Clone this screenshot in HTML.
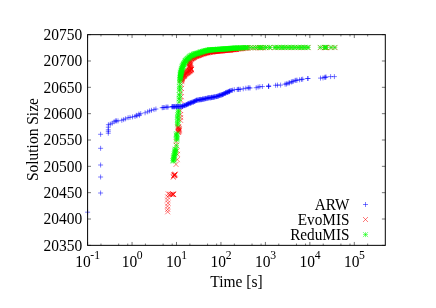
<!DOCTYPE html>
<html><head><meta charset="utf-8"><title>plot</title>
<style>html,body{margin:0;padding:0;background:#fff;width:436px;height:308px;overflow:hidden;font-family:"Liberation Serif",serif}.t,.t text,.t tspan{font-family:"Liberation Serif",serif}</style>
</head><body>
<svg width="436" height="308" viewBox="0 0 436 308" style="display:block;will-change:transform;opacity:0.999">
<rect width="436" height="308" fill="#fff"/>
<g stroke="#f00" stroke-width="0.52" fill="none"><path d="M165.20,194.40l5.00,5.00M165.20,199.40l5.00,-5.00"/><path d="M165.00,197.50l5.00,5.00M165.00,202.50l5.00,-5.00"/><path d="M165.50,200.60l5.00,5.00M165.50,205.60l5.00,-5.00"/><path d="M165.00,203.70l5.00,5.00M165.00,208.70l5.00,-5.00"/><path d="M165.20,206.80l5.00,5.00M165.20,211.80l5.00,-5.00"/><path d="M165.20,209.30l5.00,5.00M165.20,214.30l5.00,-5.00"/><path d="M165.70,191.30l5.00,5.00M165.70,196.30l5.00,-5.00"/><path d="M167.00,192.00l5.00,5.00M167.00,197.00l5.00,-5.00"/><path d="M168.10,191.70l5.00,5.00M168.10,196.70l5.00,-5.00"/><path d="M169.30,191.90l5.00,5.00M169.30,196.90l5.00,-5.00"/><path d="M170.70,191.80l5.00,5.00M170.70,196.80l5.00,-5.00"/><path d="M170.90,191.60l5.00,5.00M170.90,196.60l5.00,-5.00"/><path d="M170.50,192.00l5.00,5.00M170.50,197.00l5.00,-5.00"/><path d="M170.80,192.10l5.00,5.00M170.80,197.10l5.00,-5.00"/><path d="M170.40,191.50l5.00,5.00M170.40,196.50l5.00,-5.00"/><path d="M171.90,172.50l5.00,5.00M171.90,177.50l5.00,-5.00"/><path d="M172.10,172.30l5.00,5.00M172.10,177.30l5.00,-5.00"/><path d="M171.70,172.70l5.00,5.00M171.70,177.70l5.00,-5.00"/><path d="M172.00,172.80l5.00,5.00M172.00,177.80l5.00,-5.00"/><path d="M172.20,172.10l5.00,5.00M172.20,177.10l5.00,-5.00"/><path d="M171.60,173.00l5.00,5.00M171.60,178.00l5.00,-5.00"/><path d="M170.70,174.70l5.00,5.00M170.70,179.70l5.00,-5.00"/><path d="M171.10,173.90l5.00,5.00M171.10,178.90l5.00,-5.00"/><path d="M172.70,171.50l5.00,5.00M172.70,176.50l5.00,-5.00"/><path d="M173.50,161.90l5.00,5.00M173.50,166.90l5.00,-5.00"/><path d="M174.80,157.10l5.00,5.00M174.80,162.10l5.00,-5.00"/><path d="M175.00,151.90l5.00,5.00M175.00,156.90l5.00,-5.00"/><path d="M174.70,148.10l5.00,5.00M174.70,153.10l5.00,-5.00"/><path d="M173.80,142.70l5.00,5.00M173.80,147.70l5.00,-5.00"/><path d="M173.70,139.10l5.00,5.00M173.70,144.10l5.00,-5.00"/><path d="M175.80,129.86l5.00,5.00M175.80,134.86l5.00,-5.00"/><path d="M175.90,129.59l5.00,5.00M175.90,134.59l5.00,-5.00"/><path d="M175.91,128.85l5.00,5.00M175.91,133.85l5.00,-5.00"/><path d="M176.39,128.53l5.00,5.00M176.39,133.53l5.00,-5.00"/><path d="M176.69,128.18l5.00,5.00M176.69,133.18l5.00,-5.00"/><path d="M176.68,127.48l5.00,5.00M176.68,132.48l5.00,-5.00"/><path d="M176.52,126.92l5.00,5.00M176.52,131.92l5.00,-5.00"/><path d="M175.84,126.46l5.00,5.00M175.84,131.46l5.00,-5.00"/><path d="M176.71,126.16l5.00,5.00M176.71,131.16l5.00,-5.00"/><path d="M175.75,125.44l5.00,5.00M175.75,130.44l5.00,-5.00"/><path d="M175.91,124.95l5.00,5.00M175.91,129.95l5.00,-5.00"/><path d="M175.95,124.46l5.00,5.00M175.95,129.46l5.00,-5.00"/><path d="M175.67,124.03l5.00,5.00M175.67,129.03l5.00,-5.00"/><path d="M178.10,117.90l5.00,5.00M178.10,122.90l5.00,-5.00"/><path d="M178.20,115.00l5.00,5.00M178.20,120.00l5.00,-5.00"/><path d="M178.10,112.10l5.00,5.00M178.10,117.10l5.00,-5.00"/><path d="M177.80,108.00l5.00,5.00M177.80,113.00l5.00,-5.00"/><path d="M178.50,98.00l5.00,5.00M178.50,103.00l5.00,-5.00"/><path d="M178.70,94.30l5.00,5.00M178.70,99.30l5.00,-5.00"/><path d="M178.50,90.10l5.00,5.00M178.50,95.10l5.00,-5.00"/><path d="M178.90,85.90l5.00,5.00M178.90,90.90l5.00,-5.00"/><path d="M178.80,82.00l5.00,5.00M178.80,87.00l5.00,-5.00"/><path d="M179.50,79.20l5.00,5.00M179.50,84.20l5.00,-5.00"/><path d="M178.74,77.53l5.00,5.00M178.74,82.53l5.00,-5.00"/><path d="M178.85,77.35l5.00,5.00M178.85,82.35l5.00,-5.00"/><path d="M178.40,77.30l5.00,5.00M178.40,82.30l5.00,-5.00"/><path d="M179.05,76.71l5.00,5.00M179.05,81.71l5.00,-5.00"/><path d="M178.44,76.70l5.00,5.00M178.44,81.70l5.00,-5.00"/><path d="M178.94,76.53l5.00,5.00M178.94,81.53l5.00,-5.00"/><path d="M179.36,76.40l5.00,5.00M179.36,81.40l5.00,-5.00"/><path d="M179.32,75.72l5.00,5.00M179.32,80.72l5.00,-5.00"/><path d="M179.19,76.10l5.00,5.00M179.19,81.10l5.00,-5.00"/><path d="M178.90,75.33l5.00,5.00M178.90,80.33l5.00,-5.00"/><path d="M179.51,75.78l5.00,5.00M179.51,80.78l5.00,-5.00"/><path d="M179.07,75.36l5.00,5.00M179.07,80.36l5.00,-5.00"/><path d="M179.20,75.25l5.00,5.00M179.20,80.25l5.00,-5.00"/><path d="M179.68,74.64l5.00,5.00M179.68,79.64l5.00,-5.00"/><path d="M179.42,74.85l5.00,5.00M179.42,79.85l5.00,-5.00"/><path d="M179.76,74.66l5.00,5.00M179.76,79.66l5.00,-5.00"/><path d="M179.82,74.16l5.00,5.00M179.82,79.16l5.00,-5.00"/><path d="M180.43,74.27l5.00,5.00M180.43,79.27l5.00,-5.00"/><path d="M180.20,74.00l5.00,5.00M180.20,79.00l5.00,-5.00"/><path d="M180.53,73.98l5.00,5.00M180.53,78.98l5.00,-5.00"/><path d="M180.84,73.59l5.00,5.00M180.84,78.59l5.00,-5.00"/><path d="M180.92,73.63l5.00,5.00M180.92,78.63l5.00,-5.00"/><path d="M181.10,73.58l5.00,5.00M181.10,78.58l5.00,-5.00"/><path d="M181.23,73.49l5.00,5.00M181.23,78.49l5.00,-5.00"/><path d="M181.49,73.13l5.00,5.00M181.49,78.13l5.00,-5.00"/><path d="M181.29,73.03l5.00,5.00M181.29,78.03l5.00,-5.00"/><path d="M181.67,72.64l5.00,5.00M181.67,77.64l5.00,-5.00"/><path d="M181.51,72.26l5.00,5.00M181.51,77.26l5.00,-5.00"/><path d="M181.92,72.78l5.00,5.00M181.92,77.78l5.00,-5.00"/><path d="M181.78,71.96l5.00,5.00M181.78,76.96l5.00,-5.00"/><path d="M181.80,72.01l5.00,5.00M181.80,77.01l5.00,-5.00"/><path d="M182.03,72.30l5.00,5.00M182.03,77.30l5.00,-5.00"/><path d="M182.02,71.63l5.00,5.00M182.02,76.63l5.00,-5.00"/><path d="M182.24,71.77l5.00,5.00M182.24,76.77l5.00,-5.00"/><path d="M182.94,71.26l5.00,5.00M182.94,76.26l5.00,-5.00"/><path d="M182.54,71.35l5.00,5.00M182.54,76.35l5.00,-5.00"/><path d="M183.13,71.57l5.00,5.00M183.13,76.57l5.00,-5.00"/><path d="M182.87,70.80l5.00,5.00M182.87,75.80l5.00,-5.00"/><path d="M183.16,70.75l5.00,5.00M183.16,75.75l5.00,-5.00"/><path d="M183.37,71.01l5.00,5.00M183.37,76.01l5.00,-5.00"/><path d="M183.83,70.48l5.00,5.00M183.83,75.48l5.00,-5.00"/><path d="M183.68,70.39l5.00,5.00M183.68,75.39l5.00,-5.00"/><path d="M183.84,70.64l5.00,5.00M183.84,75.64l5.00,-5.00"/><path d="M184.12,70.33l5.00,5.00M184.12,75.33l5.00,-5.00"/><path d="M184.70,70.14l5.00,5.00M184.70,75.14l5.00,-5.00"/><path d="M184.43,70.33l5.00,5.00M184.43,75.33l5.00,-5.00"/><path d="M185.13,69.76l5.00,5.00M185.13,74.76l5.00,-5.00"/><path d="M185.01,70.12l5.00,5.00M185.01,75.12l5.00,-5.00"/><path d="M185.13,69.39l5.00,5.00M185.13,74.39l5.00,-5.00"/><path d="M184.95,69.84l5.00,5.00M184.95,74.84l5.00,-5.00"/><path d="M185.73,69.25l5.00,5.00M185.73,74.25l5.00,-5.00"/><path d="M185.68,69.22l5.00,5.00M185.68,74.22l5.00,-5.00"/><path d="M185.65,69.47l5.00,5.00M185.65,74.47l5.00,-5.00"/><path d="M186.14,68.73l5.00,5.00M186.14,73.73l5.00,-5.00"/><path d="M185.80,68.79l5.00,5.00M185.80,73.79l5.00,-5.00"/><path d="M186.26,68.92l5.00,5.00M186.26,73.92l5.00,-5.00"/><path d="M186.71,68.64l5.00,5.00M186.71,73.64l5.00,-5.00"/><path d="M186.44,68.15l5.00,5.00M186.44,73.15l5.00,-5.00"/><path d="M186.75,68.10l5.00,5.00M186.75,73.10l5.00,-5.00"/><path d="M187.37,68.17l5.00,5.00M187.37,73.17l5.00,-5.00"/><path d="M187.36,68.42l5.00,5.00M187.36,73.42l5.00,-5.00"/><path d="M187.24,67.92l5.00,5.00M187.24,72.92l5.00,-5.00"/><path d="M187.32,67.98l5.00,5.00M187.32,72.98l5.00,-5.00"/><path d="M187.38,67.89l5.00,5.00M187.38,72.89l5.00,-5.00"/><path d="M188.23,67.76l5.00,5.00M188.23,72.76l5.00,-5.00"/><path d="M187.80,67.19l5.00,5.00M187.80,72.19l5.00,-5.00"/><path d="M188.48,66.92l5.00,5.00M188.48,71.92l5.00,-5.00"/><path d="M188.47,67.09l5.00,5.00M188.47,72.09l5.00,-5.00"/><path d="M188.86,67.17l5.00,5.00M188.86,72.17l5.00,-5.00"/><path d="M188.71,66.98l5.00,5.00M188.71,71.98l5.00,-5.00"/><path d="M188.53,66.62l5.00,5.00M188.53,71.62l5.00,-5.00"/><path d="M188.47,66.00l5.00,5.00M188.47,71.00l5.00,-5.00"/><path d="M188.27,65.64l5.00,5.00M188.27,70.64l5.00,-5.00"/><path d="M187.96,65.41l5.00,5.00M187.96,70.41l5.00,-5.00"/><path d="M187.58,65.16l5.00,5.00M187.58,70.16l5.00,-5.00"/><path d="M187.53,64.43l5.00,5.00M187.53,69.43l5.00,-5.00"/><path d="M187.25,64.00l5.00,5.00M187.25,69.00l5.00,-5.00"/><path d="M187.34,63.81l5.00,5.00M187.34,68.81l5.00,-5.00"/><path d="M187.20,63.36l5.00,5.00M187.20,68.36l5.00,-5.00"/><path d="M187.03,62.73l5.00,5.00M187.03,67.73l5.00,-5.00"/><path d="M187.22,62.63l5.00,5.00M187.22,67.63l5.00,-5.00"/><path d="M187.42,61.99l5.00,5.00M187.42,66.99l5.00,-5.00"/><path d="M186.90,61.37l5.00,5.00M186.90,66.37l5.00,-5.00"/><path d="M187.30,60.84l5.00,5.00M187.30,65.84l5.00,-5.00"/><path d="M187.19,60.52l5.00,5.00M187.19,65.52l5.00,-5.00"/><path d="M186.84,60.39l5.00,5.00M186.84,65.39l5.00,-5.00"/><path d="M187.29,59.47l5.00,5.00M187.29,64.47l5.00,-5.00"/><path d="M187.30,59.11l5.00,5.00M187.30,64.11l5.00,-5.00"/><path d="M187.36,58.85l5.00,5.00M187.36,63.85l5.00,-5.00"/><path d="M187.52,58.33l5.00,5.00M187.52,63.33l5.00,-5.00"/><path d="M187.77,58.12l5.00,5.00M187.77,63.12l5.00,-5.00"/><path d="M187.89,57.44l5.00,5.00M187.89,62.44l5.00,-5.00"/><path d="M188.38,57.12l5.00,5.00M188.38,62.12l5.00,-5.00"/><path d="M188.71,56.85l5.00,5.00M188.71,61.85l5.00,-5.00"/><path d="M188.78,56.31l5.00,5.00M188.78,61.31l5.00,-5.00"/><path d="M189.00,55.86l5.00,5.00M189.00,60.86l5.00,-5.00"/><path d="M188.58,55.96l5.00,5.00M188.58,60.96l5.00,-5.00"/><path d="M189.09,56.20l5.00,5.00M189.09,61.20l5.00,-5.00"/><path d="M188.97,55.90l5.00,5.00M188.97,60.90l5.00,-5.00"/><path d="M189.55,55.89l5.00,5.00M189.55,60.89l5.00,-5.00"/><path d="M189.29,55.55l5.00,5.00M189.29,60.55l5.00,-5.00"/><path d="M189.51,55.36l5.00,5.00M189.51,60.36l5.00,-5.00"/><path d="M189.84,55.21l5.00,5.00M189.84,60.21l5.00,-5.00"/><path d="M190.33,55.30l5.00,5.00M190.33,60.30l5.00,-5.00"/><path d="M190.27,55.31l5.00,5.00M190.27,60.31l5.00,-5.00"/><path d="M190.61,55.29l5.00,5.00M190.61,60.29l5.00,-5.00"/><path d="M190.56,54.88l5.00,5.00M190.56,59.88l5.00,-5.00"/><path d="M190.76,54.57l5.00,5.00M190.76,59.57l5.00,-5.00"/><path d="M190.94,54.86l5.00,5.00M190.94,59.86l5.00,-5.00"/><path d="M191.47,54.79l5.00,5.00M191.47,59.79l5.00,-5.00"/><path d="M191.46,54.56l5.00,5.00M191.46,59.56l5.00,-5.00"/><path d="M191.26,54.27l5.00,5.00M191.26,59.27l5.00,-5.00"/><path d="M191.63,54.34l5.00,5.00M191.63,59.34l5.00,-5.00"/><path d="M191.68,54.05l5.00,5.00M191.68,59.05l5.00,-5.00"/><path d="M192.10,54.18l5.00,5.00M192.10,59.18l5.00,-5.00"/><path d="M192.47,53.95l5.00,5.00M192.47,58.95l5.00,-5.00"/><path d="M192.26,53.92l5.00,5.00M192.26,58.92l5.00,-5.00"/><path d="M192.89,53.67l5.00,5.00M192.89,58.67l5.00,-5.00"/><path d="M192.76,53.55l5.00,5.00M192.76,58.55l5.00,-5.00"/><path d="M192.84,53.62l5.00,5.00M192.84,58.62l5.00,-5.00"/><path d="M193.56,53.43l5.00,5.00M193.56,58.43l5.00,-5.00"/><path d="M193.61,53.56l5.00,5.00M193.61,58.56l5.00,-5.00"/><path d="M193.50,53.56l5.00,5.00M193.50,58.56l5.00,-5.00"/><path d="M193.97,53.05l5.00,5.00M193.97,58.05l5.00,-5.00"/><path d="M193.86,53.01l5.00,5.00M193.86,58.01l5.00,-5.00"/><path d="M194.36,53.21l5.00,5.00M194.36,58.21l5.00,-5.00"/><path d="M194.42,53.29l5.00,5.00M194.42,58.29l5.00,-5.00"/><path d="M194.65,52.94l5.00,5.00M194.65,57.94l5.00,-5.00"/><path d="M194.72,53.18l5.00,5.00M194.72,58.18l5.00,-5.00"/><path d="M194.94,53.08l5.00,5.00M194.94,58.08l5.00,-5.00"/><path d="M195.39,52.80l5.00,5.00M195.39,57.80l5.00,-5.00"/><path d="M195.61,52.56l5.00,5.00M195.61,57.56l5.00,-5.00"/><path d="M196.03,52.93l5.00,5.00M196.03,57.93l5.00,-5.00"/><path d="M196.19,52.63l5.00,5.00M196.19,57.63l5.00,-5.00"/><path d="M195.98,52.70l5.00,5.00M195.98,57.70l5.00,-5.00"/><path d="M196.29,52.68l5.00,5.00M196.29,57.68l5.00,-5.00"/><path d="M196.47,52.42l5.00,5.00M196.47,57.42l5.00,-5.00"/><path d="M197.03,52.12l5.00,5.00M197.03,57.12l5.00,-5.00"/><path d="M197.07,51.99l5.00,5.00M197.07,56.99l5.00,-5.00"/><path d="M196.97,51.98l5.00,5.00M196.97,56.98l5.00,-5.00"/><path d="M197.76,52.37l5.00,5.00M197.76,57.37l5.00,-5.00"/><path d="M197.77,51.92l5.00,5.00M197.77,56.92l5.00,-5.00"/><path d="M197.98,52.10l5.00,5.00M197.98,57.10l5.00,-5.00"/><path d="M198.01,51.94l5.00,5.00M198.01,56.94l5.00,-5.00"/><path d="M198.47,51.51l5.00,5.00M198.47,56.51l5.00,-5.00"/><path d="M198.32,51.71l5.00,5.00M198.32,56.71l5.00,-5.00"/><path d="M198.49,51.58l5.00,5.00M198.49,56.58l5.00,-5.00"/><path d="M198.95,51.38l5.00,5.00M198.95,56.38l5.00,-5.00"/><path d="M199.13,51.35l5.00,5.00M199.13,56.35l5.00,-5.00"/><path d="M199.36,51.32l5.00,5.00M199.36,56.32l5.00,-5.00"/><path d="M199.61,51.06l5.00,5.00M199.61,56.06l5.00,-5.00"/><path d="M199.83,51.05l5.00,5.00M199.83,56.05l5.00,-5.00"/><path d="M200.21,51.25l5.00,5.00M200.21,56.25l5.00,-5.00"/><path d="M200.13,51.06l5.00,5.00M200.13,56.06l5.00,-5.00"/><path d="M200.42,51.14l5.00,5.00M200.42,56.14l5.00,-5.00"/><path d="M200.71,51.11l5.00,5.00M200.71,56.11l5.00,-5.00"/><path d="M200.75,51.17l5.00,5.00M200.75,56.17l5.00,-5.00"/><path d="M201.17,51.01l5.00,5.00M201.17,56.01l5.00,-5.00"/><path d="M201.12,50.68l5.00,5.00M201.12,55.68l5.00,-5.00"/><path d="M201.42,50.89l5.00,5.00M201.42,55.89l5.00,-5.00"/><path d="M201.61,50.60l5.00,5.00M201.61,55.60l5.00,-5.00"/><path d="M201.76,50.78l5.00,5.00M201.76,55.78l5.00,-5.00"/><path d="M201.91,50.23l5.00,5.00M201.91,55.23l5.00,-5.00"/><path d="M202.37,50.69l5.00,5.00M202.37,55.69l5.00,-5.00"/><path d="M202.59,50.47l5.00,5.00M202.59,55.47l5.00,-5.00"/><path d="M202.82,50.25l5.00,5.00M202.82,55.25l5.00,-5.00"/><path d="M202.94,50.06l5.00,5.00M202.94,55.06l5.00,-5.00"/><path d="M202.87,50.24l5.00,5.00M202.87,55.24l5.00,-5.00"/><path d="M203.32,50.17l5.00,5.00M203.32,55.17l5.00,-5.00"/><path d="M203.26,50.30l5.00,5.00M203.26,55.30l5.00,-5.00"/><path d="M203.76,49.99l5.00,5.00M203.76,54.99l5.00,-5.00"/><path d="M203.85,50.04l5.00,5.00M203.85,55.04l5.00,-5.00"/><path d="M204.02,49.80l5.00,5.00M204.02,54.80l5.00,-5.00"/><path d="M204.64,50.29l5.00,5.00M204.64,55.29l5.00,-5.00"/><path d="M204.71,50.19l5.00,5.00M204.71,55.19l5.00,-5.00"/><path d="M204.78,50.11l5.00,5.00M204.78,55.11l5.00,-5.00"/><path d="M204.87,50.03l5.00,5.00M204.87,55.03l5.00,-5.00"/><path d="M205.30,50.08l5.00,5.00M205.30,55.08l5.00,-5.00"/><path d="M205.23,49.97l5.00,5.00M205.23,54.97l5.00,-5.00"/><path d="M205.46,49.77l5.00,5.00M205.46,54.77l5.00,-5.00"/><path d="M206.17,49.41l5.00,5.00M206.17,54.41l5.00,-5.00"/><path d="M205.96,49.54l5.00,5.00M205.96,54.54l5.00,-5.00"/><path d="M206.23,49.36l5.00,5.00M206.23,54.36l5.00,-5.00"/><path d="M206.79,49.76l5.00,5.00M206.79,54.76l5.00,-5.00"/><path d="M206.70,49.44l5.00,5.00M206.70,54.44l5.00,-5.00"/><path d="M207.03,49.21l5.00,5.00M207.03,54.21l5.00,-5.00"/><path d="M206.91,49.68l5.00,5.00M206.91,54.68l5.00,-5.00"/><path d="M207.30,49.40l5.00,5.00M207.30,54.40l5.00,-5.00"/><path d="M207.89,49.64l5.00,5.00M207.89,54.64l5.00,-5.00"/><path d="M207.83,49.14l5.00,5.00M207.83,54.14l5.00,-5.00"/><path d="M207.94,49.53l5.00,5.00M207.94,54.53l5.00,-5.00"/><path d="M208.52,49.07l5.00,5.00M208.52,54.07l5.00,-5.00"/><path d="M208.70,49.14l5.00,5.00M208.70,54.14l5.00,-5.00"/><path d="M208.70,49.00l5.00,5.00M208.70,54.00l5.00,-5.00"/><path d="M209.16,49.47l5.00,5.00M209.16,54.47l5.00,-5.00"/><path d="M208.97,49.23l5.00,5.00M208.97,54.23l5.00,-5.00"/><path d="M209.19,49.35l5.00,5.00M209.19,54.35l5.00,-5.00"/><path d="M209.32,48.86l5.00,5.00M209.32,53.86l5.00,-5.00"/><path d="M209.94,48.95l5.00,5.00M209.94,53.95l5.00,-5.00"/><path d="M210.27,49.26l5.00,5.00M210.27,54.26l5.00,-5.00"/><path d="M210.37,48.79l5.00,5.00M210.37,53.79l5.00,-5.00"/><path d="M210.58,49.25l5.00,5.00M210.58,54.25l5.00,-5.00"/><path d="M210.65,48.71l5.00,5.00M210.65,53.71l5.00,-5.00"/><path d="M210.73,48.82l5.00,5.00M210.73,53.82l5.00,-5.00"/><path d="M211.24,48.72l5.00,5.00M211.24,53.72l5.00,-5.00"/><path d="M211.14,48.72l5.00,5.00M211.14,53.72l5.00,-5.00"/><path d="M211.65,49.03l5.00,5.00M211.65,54.03l5.00,-5.00"/><path d="M211.70,48.92l5.00,5.00M211.70,53.92l5.00,-5.00"/><path d="M212.22,48.85l5.00,5.00M212.22,53.85l5.00,-5.00"/><path d="M212.05,48.65l5.00,5.00M212.05,53.65l5.00,-5.00"/><path d="M212.68,48.85l5.00,5.00M212.68,53.85l5.00,-5.00"/><path d="M212.51,48.80l5.00,5.00M212.51,53.80l5.00,-5.00"/><path d="M212.62,48.98l5.00,5.00M212.62,53.98l5.00,-5.00"/><path d="M213.05,48.69l5.00,5.00M213.05,53.69l5.00,-5.00"/><path d="M213.32,48.38l5.00,5.00M213.32,53.38l5.00,-5.00"/><path d="M213.58,48.50l5.00,5.00M213.58,53.50l5.00,-5.00"/><path d="M213.59,48.79l5.00,5.00M213.59,53.79l5.00,-5.00"/><path d="M213.71,48.46l5.00,5.00M213.71,53.46l5.00,-5.00"/><path d="M214.33,48.42l5.00,5.00M214.33,53.42l5.00,-5.00"/><path d="M214.27,48.58l5.00,5.00M214.27,53.58l5.00,-5.00"/><path d="M214.43,48.77l5.00,5.00M214.43,53.77l5.00,-5.00"/><path d="M215.13,48.23l5.00,5.00M215.13,53.23l5.00,-5.00"/><path d="M215.03,48.64l5.00,5.00M215.03,53.64l5.00,-5.00"/><path d="M215.20,48.73l5.00,5.00M215.20,53.73l5.00,-5.00"/><path d="M215.49,48.26l5.00,5.00M215.49,53.26l5.00,-5.00"/><path d="M215.75,48.52l5.00,5.00M215.75,53.52l5.00,-5.00"/><path d="M215.85,48.50l5.00,5.00M215.85,53.50l5.00,-5.00"/><path d="M216.32,48.40l5.00,5.00M216.32,53.40l5.00,-5.00"/><path d="M216.37,48.58l5.00,5.00M216.37,53.58l5.00,-5.00"/><path d="M216.70,48.36l5.00,5.00M216.70,53.36l5.00,-5.00"/><path d="M217.08,48.13l5.00,5.00M217.08,53.13l5.00,-5.00"/><path d="M217.19,48.11l5.00,5.00M217.19,53.11l5.00,-5.00"/><path d="M217.31,48.13l5.00,5.00M217.31,53.13l5.00,-5.00"/><path d="M217.43,48.43l5.00,5.00M217.43,53.43l5.00,-5.00"/><path d="M217.86,48.42l5.00,5.00M217.86,53.42l5.00,-5.00"/><path d="M217.74,48.22l5.00,5.00M217.74,53.22l5.00,-5.00"/><path d="M217.95,48.25l5.00,5.00M217.95,53.25l5.00,-5.00"/><path d="M218.34,47.91l5.00,5.00M218.34,52.91l5.00,-5.00"/><path d="M218.62,48.29l5.00,5.00M218.62,53.29l5.00,-5.00"/><path d="M218.82,48.37l5.00,5.00M218.82,53.37l5.00,-5.00"/><path d="M218.81,47.92l5.00,5.00M218.81,52.92l5.00,-5.00"/><path d="M218.93,48.10l5.00,5.00M218.93,53.10l5.00,-5.00"/><path d="M219.40,48.05l5.00,5.00M219.40,53.05l5.00,-5.00"/><path d="M219.51,48.24l5.00,5.00M219.51,53.24l5.00,-5.00"/><path d="M219.62,48.29l5.00,5.00M219.62,53.29l5.00,-5.00"/><path d="M220.13,48.05l5.00,5.00M220.13,53.05l5.00,-5.00"/><path d="M220.49,47.85l5.00,5.00M220.49,52.85l5.00,-5.00"/><path d="M220.32,47.87l5.00,5.00M220.32,52.87l5.00,-5.00"/><path d="M220.48,47.85l5.00,5.00M220.48,52.85l5.00,-5.00"/><path d="M221.04,47.96l5.00,5.00M221.04,52.96l5.00,-5.00"/><path d="M221.05,47.97l5.00,5.00M221.05,52.97l5.00,-5.00"/><path d="M221.16,48.09l5.00,5.00M221.16,53.09l5.00,-5.00"/><path d="M221.43,47.73l5.00,5.00M221.43,52.73l5.00,-5.00"/><path d="M221.64,47.98l5.00,5.00M221.64,52.98l5.00,-5.00"/><path d="M222.26,48.01l5.00,5.00M222.26,53.01l5.00,-5.00"/><path d="M222.02,47.77l5.00,5.00M222.02,52.77l5.00,-5.00"/><path d="M222.42,47.63l5.00,5.00M222.42,52.63l5.00,-5.00"/><path d="M223.00,47.50l5.00,5.00M223.00,52.50l5.00,-5.00"/><path d="M222.93,47.91l5.00,5.00M222.93,52.91l5.00,-5.00"/><path d="M223.45,47.52l5.00,5.00M223.45,52.52l5.00,-5.00"/><path d="M223.35,47.86l5.00,5.00M223.35,52.86l5.00,-5.00"/><path d="M223.32,47.53l5.00,5.00M223.32,52.53l5.00,-5.00"/><path d="M224.05,47.45l5.00,5.00M224.05,52.45l5.00,-5.00"/><path d="M223.97,47.53l5.00,5.00M223.97,52.53l5.00,-5.00"/><path d="M224.21,47.37l5.00,5.00M224.21,52.37l5.00,-5.00"/><path d="M224.19,47.90l5.00,5.00M224.19,52.90l5.00,-5.00"/><path d="M224.85,47.72l5.00,5.00M224.85,52.72l5.00,-5.00"/><path d="M224.75,47.41l5.00,5.00M224.75,52.41l5.00,-5.00"/><path d="M225.16,47.38l5.00,5.00M225.16,52.38l5.00,-5.00"/><path d="M225.33,47.77l5.00,5.00M225.33,52.77l5.00,-5.00"/><path d="M225.49,47.40l5.00,5.00M225.49,52.40l5.00,-5.00"/><path d="M226.08,47.54l5.00,5.00M226.08,52.54l5.00,-5.00"/><path d="M225.73,47.39l5.00,5.00M225.73,52.39l5.00,-5.00"/><path d="M226.31,47.16l5.00,5.00M226.31,52.16l5.00,-5.00"/><path d="M226.35,47.52l5.00,5.00M226.35,52.52l5.00,-5.00"/><path d="M226.88,47.44l5.00,5.00M226.88,52.44l5.00,-5.00"/><path d="M227.11,47.34l5.00,5.00M227.11,52.34l5.00,-5.00"/><path d="M227.04,47.55l5.00,5.00M227.04,52.55l5.00,-5.00"/><path d="M227.25,47.49l5.00,5.00M227.25,52.49l5.00,-5.00"/><path d="M227.37,47.20l5.00,5.00M227.37,52.20l5.00,-5.00"/><path d="M227.57,47.30l5.00,5.00M227.57,52.30l5.00,-5.00"/><path d="M227.77,47.07l5.00,5.00M227.77,52.07l5.00,-5.00"/><path d="M228.02,47.21l5.00,5.00M228.02,52.21l5.00,-5.00"/><path d="M228.30,47.18l5.00,5.00M228.30,52.18l5.00,-5.00"/><path d="M228.93,47.29l5.00,5.00M228.93,52.29l5.00,-5.00"/><path d="M229.07,46.99l5.00,5.00M229.07,51.99l5.00,-5.00"/><path d="M229.00,46.89l5.00,5.00M229.00,51.89l5.00,-5.00"/><path d="M229.40,47.04l5.00,5.00M229.40,52.04l5.00,-5.00"/><path d="M229.37,46.81l5.00,5.00M229.37,51.81l5.00,-5.00"/><path d="M229.54,46.93l5.00,5.00M229.54,51.93l5.00,-5.00"/><path d="M229.88,47.31l5.00,5.00M229.88,52.31l5.00,-5.00"/><path d="M230.29,46.89l5.00,5.00M230.29,51.89l5.00,-5.00"/><path d="M230.30,46.80l5.00,5.00M230.30,51.80l5.00,-5.00"/><path d="M230.86,46.91l5.00,5.00M230.86,51.91l5.00,-5.00"/><path d="M230.98,47.10l5.00,5.00M230.98,52.10l5.00,-5.00"/><path d="M231.28,46.66l5.00,5.00M231.28,51.66l5.00,-5.00"/><path d="M231.15,46.85l5.00,5.00M231.15,51.85l5.00,-5.00"/><path d="M231.23,47.13l5.00,5.00M231.23,52.13l5.00,-5.00"/><path d="M231.59,47.04l5.00,5.00M231.59,52.04l5.00,-5.00"/><path d="M231.93,46.59l5.00,5.00M231.93,51.59l5.00,-5.00"/><path d="M232.07,46.68l5.00,5.00M232.07,51.68l5.00,-5.00"/><path d="M232.08,46.61l5.00,5.00M232.08,51.61l5.00,-5.00"/><path d="M232.63,46.51l5.00,5.00M232.63,51.51l5.00,-5.00"/><path d="M232.68,46.73l5.00,5.00M232.68,51.73l5.00,-5.00"/><path d="M233.04,46.53l5.00,5.00M233.04,51.53l5.00,-5.00"/><path d="M233.35,46.58l5.00,5.00M233.35,51.58l5.00,-5.00"/><path d="M233.58,46.80l5.00,5.00M233.58,51.80l5.00,-5.00"/><path d="M233.29,46.52l5.00,5.00M233.29,51.52l5.00,-5.00"/><path d="M233.37,46.75l5.00,5.00M233.37,51.75l5.00,-5.00"/><path d="M234.24,46.59l5.00,5.00M234.24,51.59l5.00,-5.00"/><path d="M235.31,46.48l5.00,5.00M235.31,51.48l5.00,-5.00"/><path d="M235.76,46.42l5.00,5.00M235.76,51.42l5.00,-5.00"/><path d="M236.51,46.27l5.00,5.00M236.51,51.27l5.00,-5.00"/><path d="M237.19,46.33l5.00,5.00M237.19,51.33l5.00,-5.00"/><path d="M238.32,46.30l5.00,5.00M238.32,51.30l5.00,-5.00"/><path d="M239.36,46.08l5.00,5.00M239.36,51.08l5.00,-5.00"/><path d="M239.97,46.14l5.00,5.00M239.97,51.14l5.00,-5.00"/><path d="M240.49,45.99l5.00,5.00M240.49,50.99l5.00,-5.00"/><path d="M241.55,45.96l5.00,5.00M241.55,50.96l5.00,-5.00"/><path d="M242.47,45.70l5.00,5.00M242.47,50.70l5.00,-5.00"/><path d="M243.12,45.57l5.00,5.00M243.12,50.57l5.00,-5.00"/><path d="M243.80,45.55l5.00,5.00M243.80,50.55l5.00,-5.00"/><path d="M244.24,45.47l5.00,5.00M244.24,50.47l5.00,-5.00"/><path d="M245.15,45.32l5.00,5.00M245.15,50.32l5.00,-5.00"/><path d="M247.83,45.25l5.00,5.00M247.83,50.25l5.00,-5.00"/><path d="M250.52,45.35l5.00,5.00M250.52,50.35l5.00,-5.00"/><path d="M253.20,45.28l5.00,5.00M253.20,50.28l5.00,-5.00"/><path d="M255.49,45.14l5.00,5.00M255.49,50.14l5.00,-5.00"/><path d="M257.23,45.28l5.00,5.00M257.23,50.28l5.00,-5.00"/><path d="M257.94,45.25l5.00,5.00M257.94,50.25l5.00,-5.00"/><path d="M258.65,45.14l5.00,5.00M258.65,50.14l5.00,-5.00"/><path d="M260.39,45.28l5.00,5.00M260.39,50.28l5.00,-5.00"/><path d="M263.30,45.15l5.00,5.00M263.30,50.15l5.00,-5.00"/><path d="M267.30,45.15l5.00,5.00M267.30,50.15l5.00,-5.00"/><path d="M272.60,45.15l5.00,5.00M272.60,50.15l5.00,-5.00"/><path d="M275.70,45.15l5.00,5.00M275.70,50.15l5.00,-5.00"/><path d="M279.20,45.15l5.00,5.00M279.20,50.15l5.00,-5.00"/><path d="M282.30,45.15l5.00,5.00M282.30,50.15l5.00,-5.00"/><path d="M285.70,45.15l5.00,5.00M285.70,50.15l5.00,-5.00"/><path d="M288.90,45.15l5.00,5.00M288.90,50.15l5.00,-5.00"/><path d="M292.30,45.15l5.00,5.00M292.30,50.15l5.00,-5.00"/><path d="M295.80,45.15l5.00,5.00M295.80,50.15l5.00,-5.00"/><path d="M298.90,45.15l5.00,5.00M298.90,50.15l5.00,-5.00"/><path d="M302.10,45.15l5.00,5.00M302.10,50.15l5.00,-5.00"/><path d="M305.50,45.15l5.00,5.00M305.50,50.15l5.00,-5.00"/><path d="M317.90,45.10l5.00,5.00M317.90,50.10l5.00,-5.00"/><path d="M321.90,45.10l5.00,5.00M321.90,50.10l5.00,-5.00"/><path d="M322.70,45.10l5.00,5.00M322.70,50.10l5.00,-5.00"/><path d="M323.30,45.10l5.00,5.00M323.30,50.10l5.00,-5.00"/><path d="M324.00,45.10l5.00,5.00M324.00,50.10l5.00,-5.00"/><path d="M328.60,45.10l5.00,5.00M328.60,50.10l5.00,-5.00"/><path d="M332.40,45.10l5.00,5.00M332.40,50.10l5.00,-5.00"/></g>
<g stroke="#0f0" stroke-width="0.52" fill="none"><path d="M170.79,161.19h5.00M173.29,158.69v5.00M170.79,158.69l5.00,5.00M170.79,163.69l5.00,-5.00"/><path d="M170.45,160.56h5.00M172.95,158.06v5.00M170.45,158.06l5.00,5.00M170.45,163.06l5.00,-5.00"/><path d="M171.37,160.04h5.00M173.87,157.54v5.00M171.37,157.54l5.00,5.00M171.37,162.54l5.00,-5.00"/><path d="M171.38,159.37h5.00M173.88,156.87v5.00M171.38,156.87l5.00,5.00M171.38,161.87l5.00,-5.00"/><path d="M171.05,158.16h5.00M173.55,155.66v5.00M171.05,155.66l5.00,5.00M171.05,160.66l5.00,-5.00"/><path d="M171.39,157.49h5.00M173.89,154.99v5.00M171.39,154.99l5.00,5.00M171.39,159.99l5.00,-5.00"/><path d="M171.28,156.84h5.00M173.78,154.34v5.00M171.28,154.34l5.00,5.00M171.28,159.34l5.00,-5.00"/><path d="M171.88,156.15h5.00M174.38,153.65v5.00M171.88,153.65l5.00,5.00M171.88,158.65l5.00,-5.00"/><path d="M171.69,155.62h5.00M174.19,153.12v5.00M171.69,153.12l5.00,5.00M171.69,158.12l5.00,-5.00"/><path d="M172.58,154.66h5.00M175.08,152.16v5.00M172.58,152.16l5.00,5.00M172.58,157.16l5.00,-5.00"/><path d="M171.73,153.67h5.00M174.23,151.17v5.00M171.73,151.17l5.00,5.00M171.73,156.17l5.00,-5.00"/><path d="M172.75,152.94h5.00M175.25,150.44v5.00M172.75,150.44l5.00,5.00M172.75,155.44l5.00,-5.00"/><path d="M172.72,152.52h5.00M175.22,150.02v5.00M172.72,150.02l5.00,5.00M172.72,155.02l5.00,-5.00"/><path d="M172.43,151.92h5.00M174.93,149.42v5.00M172.43,149.42l5.00,5.00M172.43,154.42l5.00,-5.00"/><path d="M172.26,150.79h5.00M174.76,148.29v5.00M172.26,148.29l5.00,5.00M172.26,153.29l5.00,-5.00"/><path d="M172.89,149.99h5.00M175.39,147.49v5.00M172.89,147.49l5.00,5.00M172.89,152.49l5.00,-5.00"/><path d="M173.45,149.38h5.00M175.95,146.88v5.00M173.45,146.88l5.00,5.00M173.45,151.88l5.00,-5.00"/><path d="M172.70,149.23h5.00M175.20,146.73v5.00M172.70,146.73l5.00,5.00M172.70,151.73l5.00,-5.00"/><path d="M174.00,145.60h5.00M176.50,143.10v5.00M174.00,143.10l5.00,5.00M174.00,148.10l5.00,-5.00"/><path d="M174.20,139.98h5.00M176.70,137.48v5.00M174.20,137.48l5.00,5.00M174.20,142.48l5.00,-5.00"/><path d="M174.24,139.06h5.00M176.74,136.56v5.00M174.24,136.56l5.00,5.00M174.24,141.56l5.00,-5.00"/><path d="M174.41,138.18h5.00M176.91,135.68v5.00M174.41,135.68l5.00,5.00M174.41,140.68l5.00,-5.00"/><path d="M174.35,136.88h5.00M176.85,134.38v5.00M174.35,134.38l5.00,5.00M174.35,139.38l5.00,-5.00"/><path d="M174.21,135.87h5.00M176.71,133.37v5.00M174.21,133.37l5.00,5.00M174.21,138.37l5.00,-5.00"/><path d="M173.88,134.99h5.00M176.38,132.49v5.00M173.88,132.49l5.00,5.00M173.88,137.49l5.00,-5.00"/><path d="M174.47,133.87h5.00M176.97,131.37v5.00M174.47,131.37l5.00,5.00M174.47,136.37l5.00,-5.00"/><path d="M174.12,133.94h5.00M176.62,131.44v5.00M174.12,131.44l5.00,5.00M174.12,136.44l5.00,-5.00"/><path d="M175.16,125.01h5.00M177.66,122.51v5.00M175.16,122.51l5.00,5.00M175.16,127.51l5.00,-5.00"/><path d="M175.13,123.65h5.00M177.63,121.15v5.00M175.13,121.15l5.00,5.00M175.13,126.15l5.00,-5.00"/><path d="M175.00,122.18h5.00M177.50,119.68v5.00M175.00,119.68l5.00,5.00M175.00,124.68l5.00,-5.00"/><path d="M175.45,120.25h5.00M177.95,117.75v5.00M175.45,117.75l5.00,5.00M175.45,122.75l5.00,-5.00"/><path d="M175.52,119.14h5.00M178.02,116.64v5.00M175.52,116.64l5.00,5.00M175.52,121.64l5.00,-5.00"/><path d="M174.94,117.48h5.00M177.44,114.98v5.00M174.94,114.98l5.00,5.00M174.94,119.98l5.00,-5.00"/><path d="M175.43,116.25h5.00M177.93,113.75v5.00M175.43,113.75l5.00,5.00M175.43,118.75l5.00,-5.00"/><path d="M175.33,114.55h5.00M177.83,112.05v5.00M175.33,112.05l5.00,5.00M175.33,117.05l5.00,-5.00"/><path d="M175.84,113.19h5.00M178.34,110.69v5.00M175.84,110.69l5.00,5.00M175.84,115.69l5.00,-5.00"/><path d="M175.99,111.50h5.00M178.49,109.00v5.00M175.99,109.00l5.00,5.00M175.99,114.00l5.00,-5.00"/><path d="M175.82,110.32h5.00M178.32,107.82v5.00M175.82,107.82l5.00,5.00M175.82,112.82l5.00,-5.00"/><path d="M176.50,102.20h5.00M179.00,99.70v5.00M176.50,99.70l5.00,5.00M176.50,104.70l5.00,-5.00"/><path d="M176.70,98.80h5.00M179.20,96.30v5.00M176.70,96.30l5.00,5.00M176.70,101.30l5.00,-5.00"/><path d="M176.90,98.40h5.00M179.40,95.90v5.00M176.90,95.90l5.00,5.00M176.90,100.90l5.00,-5.00"/><path d="M176.80,95.00h5.00M179.30,92.50v5.00M176.80,92.50l5.00,5.00M176.80,97.50l5.00,-5.00"/><path d="M177.10,94.60h5.00M179.60,92.10v5.00M177.10,92.10l5.00,5.00M177.10,97.10l5.00,-5.00"/><path d="M177.00,90.20h5.00M179.50,87.70v5.00M177.00,87.70l5.00,5.00M177.00,92.70l5.00,-5.00"/><path d="M177.20,89.80h5.00M179.70,87.30v5.00M177.20,87.30l5.00,5.00M177.20,92.30l5.00,-5.00"/><path d="M177.00,86.80h5.00M179.50,84.30v5.00M177.00,84.30l5.00,5.00M177.00,89.30l5.00,-5.00"/><path d="M177.30,86.40h5.00M179.80,83.90v5.00M177.30,83.90l5.00,5.00M177.30,88.90l5.00,-5.00"/><path d="M177.10,82.60h5.00M179.60,80.10v5.00M177.10,80.10l5.00,5.00M177.10,85.10l5.00,-5.00"/><path d="M177.40,81.00h5.00M179.90,78.50v5.00M177.40,78.50l5.00,5.00M177.40,83.50l5.00,-5.00"/><path d="M177.30,79.40h5.00M179.80,76.90v5.00M177.30,76.90l5.00,5.00M177.30,81.90l5.00,-5.00"/><path d="M177.83,78.19h5.00M180.33,75.69v5.00M177.83,75.69l5.00,5.00M177.83,80.69l5.00,-5.00"/><path d="M177.84,77.71h5.00M180.34,75.21v5.00M177.84,75.21l5.00,5.00M177.84,80.21l5.00,-5.00"/><path d="M177.64,77.41h5.00M180.14,74.91v5.00M177.64,74.91l5.00,5.00M177.64,79.91l5.00,-5.00"/><path d="M178.15,77.04h5.00M180.65,74.54v5.00M178.15,74.54l5.00,5.00M178.15,79.54l5.00,-5.00"/><path d="M177.94,76.51h5.00M180.44,74.01v5.00M177.94,74.01l5.00,5.00M177.94,79.01l5.00,-5.00"/><path d="M177.87,76.16h5.00M180.37,73.66v5.00M177.87,73.66l5.00,5.00M177.87,78.66l5.00,-5.00"/><path d="M178.25,75.41h5.00M180.75,72.91v5.00M178.25,72.91l5.00,5.00M178.25,77.91l5.00,-5.00"/><path d="M177.84,75.05h5.00M180.34,72.55v5.00M177.84,72.55l5.00,5.00M177.84,77.55l5.00,-5.00"/><path d="M178.17,74.83h5.00M180.67,72.33v5.00M178.17,72.33l5.00,5.00M178.17,77.33l5.00,-5.00"/><path d="M178.19,73.97h5.00M180.69,71.47v5.00M178.19,71.47l5.00,5.00M178.19,76.47l5.00,-5.00"/><path d="M178.44,73.58h5.00M180.94,71.08v5.00M178.44,71.08l5.00,5.00M178.44,76.08l5.00,-5.00"/><path d="M178.49,73.22h5.00M180.99,70.72v5.00M178.49,70.72l5.00,5.00M178.49,75.72l5.00,-5.00"/><path d="M178.27,73.18h5.00M180.77,70.68v5.00M178.27,70.68l5.00,5.00M178.27,75.68l5.00,-5.00"/><path d="M178.21,72.38h5.00M180.71,69.88v5.00M178.21,69.88l5.00,5.00M178.21,74.88l5.00,-5.00"/><path d="M178.49,72.31h5.00M180.99,69.81v5.00M178.49,69.81l5.00,5.00M178.49,74.81l5.00,-5.00"/><path d="M178.77,71.88h5.00M181.27,69.38v5.00M178.77,69.38l5.00,5.00M178.77,74.38l5.00,-5.00"/><path d="M178.95,71.35h5.00M181.45,68.85v5.00M178.95,68.85l5.00,5.00M178.95,73.85l5.00,-5.00"/><path d="M179.06,70.70h5.00M181.56,68.20v5.00M179.06,68.20l5.00,5.00M179.06,73.20l5.00,-5.00"/><path d="M178.74,70.56h5.00M181.24,68.06v5.00M178.74,68.06l5.00,5.00M178.74,73.06l5.00,-5.00"/><path d="M178.89,70.28h5.00M181.39,67.78v5.00M178.89,67.78l5.00,5.00M178.89,72.78l5.00,-5.00"/><path d="M179.22,69.75h5.00M181.72,67.25v5.00M179.22,67.25l5.00,5.00M179.22,72.25l5.00,-5.00"/><path d="M179.45,69.37h5.00M181.95,66.87v5.00M179.45,66.87l5.00,5.00M179.45,71.87l5.00,-5.00"/><path d="M179.25,68.86h5.00M181.75,66.36v5.00M179.25,66.36l5.00,5.00M179.25,71.36l5.00,-5.00"/><path d="M179.68,68.77h5.00M182.18,66.27v5.00M179.68,66.27l5.00,5.00M179.68,71.27l5.00,-5.00"/><path d="M179.41,68.33h5.00M181.91,65.83v5.00M179.41,65.83l5.00,5.00M179.41,70.83l5.00,-5.00"/><path d="M179.98,67.73h5.00M182.48,65.23v5.00M179.98,65.23l5.00,5.00M179.98,70.23l5.00,-5.00"/><path d="M179.86,67.13h5.00M182.36,64.63v5.00M179.86,64.63l5.00,5.00M179.86,69.63l5.00,-5.00"/><path d="M179.96,66.92h5.00M182.46,64.42v5.00M179.96,64.42l5.00,5.00M179.96,69.42l5.00,-5.00"/><path d="M180.18,66.25h5.00M182.68,63.75v5.00M180.18,63.75l5.00,5.00M180.18,68.75l5.00,-5.00"/><path d="M180.57,66.16h5.00M183.07,63.66v5.00M180.57,63.66l5.00,5.00M180.57,68.66l5.00,-5.00"/><path d="M180.40,65.95h5.00M182.90,63.45v5.00M180.40,63.45l5.00,5.00M180.40,68.45l5.00,-5.00"/><path d="M180.68,65.38h5.00M183.18,62.88v5.00M180.68,62.88l5.00,5.00M180.68,67.88l5.00,-5.00"/><path d="M180.93,64.74h5.00M183.43,62.24v5.00M180.93,62.24l5.00,5.00M180.93,67.24l5.00,-5.00"/><path d="M181.01,64.57h5.00M183.51,62.07v5.00M181.01,62.07l5.00,5.00M181.01,67.07l5.00,-5.00"/><path d="M181.44,64.49h5.00M183.94,61.99v5.00M181.44,61.99l5.00,5.00M181.44,66.99l5.00,-5.00"/><path d="M181.20,63.84h5.00M183.70,61.34v5.00M181.20,61.34l5.00,5.00M181.20,66.34l5.00,-5.00"/><path d="M181.29,63.44h5.00M183.79,60.94v5.00M181.29,60.94l5.00,5.00M181.29,65.94l5.00,-5.00"/><path d="M181.94,63.37h5.00M184.44,60.87v5.00M181.94,60.87l5.00,5.00M181.94,65.87l5.00,-5.00"/><path d="M181.97,62.67h5.00M184.47,60.17v5.00M181.97,60.17l5.00,5.00M181.97,65.17l5.00,-5.00"/><path d="M182.03,62.50h5.00M184.53,60.00v5.00M182.03,60.00l5.00,5.00M182.03,65.00l5.00,-5.00"/><path d="M182.70,61.86h5.00M185.20,59.36v5.00M182.70,59.36l5.00,5.00M182.70,64.36l5.00,-5.00"/><path d="M182.85,61.44h5.00M185.35,58.94v5.00M182.85,58.94l5.00,5.00M182.85,63.94l5.00,-5.00"/><path d="M182.73,61.22h5.00M185.23,58.72v5.00M182.73,58.72l5.00,5.00M182.73,63.72l5.00,-5.00"/><path d="M183.26,60.93h5.00M185.76,58.43v5.00M183.26,58.43l5.00,5.00M183.26,63.43l5.00,-5.00"/><path d="M183.29,60.75h5.00M185.79,58.25v5.00M183.29,58.25l5.00,5.00M183.29,63.25l5.00,-5.00"/><path d="M183.40,60.50h5.00M185.90,58.00v5.00M183.40,58.00l5.00,5.00M183.40,63.00l5.00,-5.00"/><path d="M183.71,60.07h5.00M186.21,57.57v5.00M183.71,57.57l5.00,5.00M183.71,62.57l5.00,-5.00"/><path d="M184.09,59.58h5.00M186.59,57.08v5.00M184.09,57.08l5.00,5.00M184.09,62.08l5.00,-5.00"/><path d="M184.55,59.43h5.00M187.05,56.93v5.00M184.55,56.93l5.00,5.00M184.55,61.93l5.00,-5.00"/><path d="M184.76,59.12h5.00M187.26,56.62v5.00M184.76,56.62l5.00,5.00M184.76,61.62l5.00,-5.00"/><path d="M185.14,58.67h5.00M187.64,56.17v5.00M185.14,56.17l5.00,5.00M185.14,61.17l5.00,-5.00"/><path d="M185.25,58.65h5.00M187.75,56.15v5.00M185.25,56.15l5.00,5.00M185.25,61.15l5.00,-5.00"/><path d="M185.80,58.30h5.00M188.30,55.80v5.00M185.80,55.80l5.00,5.00M185.80,60.80l5.00,-5.00"/><path d="M186.23,58.05h5.00M188.73,55.55v5.00M186.23,55.55l5.00,5.00M186.23,60.55l5.00,-5.00"/><path d="M186.53,57.52h5.00M189.03,55.02v5.00M186.53,55.02l5.00,5.00M186.53,60.02l5.00,-5.00"/><path d="M186.76,57.57h5.00M189.26,55.07v5.00M186.76,55.07l5.00,5.00M186.76,60.07l5.00,-5.00"/><path d="M187.15,56.98h5.00M189.65,54.48v5.00M187.15,54.48l5.00,5.00M187.15,59.48l5.00,-5.00"/><path d="M187.09,57.05h5.00M189.59,54.55v5.00M187.09,54.55l5.00,5.00M187.09,59.55l5.00,-5.00"/><path d="M187.33,56.80h5.00M189.83,54.30v5.00M187.33,54.30l5.00,5.00M187.33,59.30l5.00,-5.00"/><path d="M188.11,56.09h5.00M190.61,53.59v5.00M188.11,53.59l5.00,5.00M188.11,58.59l5.00,-5.00"/><path d="M188.10,56.27h5.00M190.60,53.77v5.00M188.10,53.77l5.00,5.00M188.10,58.77l5.00,-5.00"/><path d="M188.49,55.70h5.00M190.99,53.20v5.00M188.49,53.20l5.00,5.00M188.49,58.20l5.00,-5.00"/><path d="M189.21,55.71h5.00M191.71,53.21v5.00M189.21,53.21l5.00,5.00M189.21,58.21l5.00,-5.00"/><path d="M189.56,55.35h5.00M192.06,52.85v5.00M189.56,52.85l5.00,5.00M189.56,57.85l5.00,-5.00"/><path d="M189.71,55.50h5.00M192.21,53.00v5.00M189.71,53.00l5.00,5.00M189.71,58.00l5.00,-5.00"/><path d="M189.86,55.03h5.00M192.36,52.53v5.00M189.86,52.53l5.00,5.00M189.86,57.53l5.00,-5.00"/><path d="M190.63,55.27h5.00M193.13,52.77v5.00M190.63,52.77l5.00,5.00M190.63,57.77l5.00,-5.00"/><path d="M191.18,54.61h5.00M193.68,52.11v5.00M191.18,52.11l5.00,5.00M191.18,57.11l5.00,-5.00"/><path d="M191.28,54.81h5.00M193.78,52.31v5.00M191.28,52.31l5.00,5.00M191.28,57.31l5.00,-5.00"/><path d="M191.66,54.58h5.00M194.16,52.08v5.00M191.66,52.08l5.00,5.00M191.66,57.08l5.00,-5.00"/><path d="M191.85,54.03h5.00M194.35,51.53v5.00M191.85,51.53l5.00,5.00M191.85,56.53l5.00,-5.00"/><path d="M192.20,53.89h5.00M194.70,51.39v5.00M192.20,51.39l5.00,5.00M192.20,56.39l5.00,-5.00"/><path d="M192.87,54.06h5.00M195.37,51.56v5.00M192.87,51.56l5.00,5.00M192.87,56.56l5.00,-5.00"/><path d="M193.28,53.72h5.00M195.78,51.22v5.00M193.28,51.22l5.00,5.00M193.28,56.22l5.00,-5.00"/><path d="M193.45,53.63h5.00M195.95,51.13v5.00M193.45,51.13l5.00,5.00M193.45,56.13l5.00,-5.00"/><path d="M194.25,53.98h5.00M196.75,51.48v5.00M194.25,51.48l5.00,5.00M194.25,56.48l5.00,-5.00"/><path d="M194.70,53.32h5.00M197.20,50.82v5.00M194.70,50.82l5.00,5.00M194.70,55.82l5.00,-5.00"/><path d="M194.59,53.72h5.00M197.09,51.22v5.00M194.59,51.22l5.00,5.00M194.59,56.22l5.00,-5.00"/><path d="M195.23,53.48h5.00M197.73,50.98v5.00M195.23,50.98l5.00,5.00M195.23,55.98l5.00,-5.00"/><path d="M195.55,53.18h5.00M198.05,50.68v5.00M195.55,50.68l5.00,5.00M195.55,55.68l5.00,-5.00"/><path d="M196.07,53.04h5.00M198.57,50.54v5.00M196.07,50.54l5.00,5.00M196.07,55.54l5.00,-5.00"/><path d="M196.52,52.67h5.00M199.02,50.17v5.00M196.52,50.17l5.00,5.00M196.52,55.17l5.00,-5.00"/><path d="M196.98,53.05h5.00M199.48,50.55v5.00M196.98,50.55l5.00,5.00M196.98,55.55l5.00,-5.00"/><path d="M197.06,52.67h5.00M199.56,50.17v5.00M197.06,50.17l5.00,5.00M197.06,55.17l5.00,-5.00"/><path d="M197.79,52.49h5.00M200.29,49.99v5.00M197.79,49.99l5.00,5.00M197.79,54.99l5.00,-5.00"/><path d="M197.85,52.19h5.00M200.35,49.69v5.00M197.85,49.69l5.00,5.00M197.85,54.69l5.00,-5.00"/><path d="M198.43,51.94h5.00M200.93,49.44v5.00M198.43,49.44l5.00,5.00M198.43,54.44l5.00,-5.00"/><path d="M199.05,52.26h5.00M201.55,49.76v5.00M199.05,49.76l5.00,5.00M199.05,54.76l5.00,-5.00"/><path d="M199.33,52.13h5.00M201.83,49.63v5.00M199.33,49.63l5.00,5.00M199.33,54.63l5.00,-5.00"/><path d="M199.67,51.70h5.00M202.17,49.20v5.00M199.67,49.20l5.00,5.00M199.67,54.20l5.00,-5.00"/><path d="M200.04,51.61h5.00M202.54,49.11v5.00M200.04,49.11l5.00,5.00M200.04,54.11l5.00,-5.00"/><path d="M200.66,51.63h5.00M203.16,49.13v5.00M200.66,49.13l5.00,5.00M200.66,54.13l5.00,-5.00"/><path d="M200.62,51.54h5.00M203.12,49.04v5.00M200.62,49.04l5.00,5.00M200.62,54.04l5.00,-5.00"/><path d="M201.31,51.33h5.00M203.81,48.83v5.00M201.31,48.83l5.00,5.00M201.31,53.83l5.00,-5.00"/><path d="M201.76,51.03h5.00M204.26,48.53v5.00M201.76,48.53l5.00,5.00M201.76,53.53l5.00,-5.00"/><path d="M202.22,51.23h5.00M204.72,48.73v5.00M202.22,48.73l5.00,5.00M202.22,53.73l5.00,-5.00"/><path d="M202.52,51.08h5.00M205.02,48.58v5.00M202.52,48.58l5.00,5.00M202.52,53.58l5.00,-5.00"/><path d="M202.97,50.78h5.00M205.47,48.28v5.00M202.97,48.28l5.00,5.00M202.97,53.28l5.00,-5.00"/><path d="M203.36,50.50h5.00M205.86,48.00v5.00M203.36,48.00l5.00,5.00M203.36,53.00l5.00,-5.00"/><path d="M203.54,50.65h5.00M206.04,48.15v5.00M203.54,48.15l5.00,5.00M203.54,53.15l5.00,-5.00"/><path d="M203.75,50.50h5.00M206.25,48.00v5.00M203.75,48.00l5.00,5.00M203.75,53.00l5.00,-5.00"/><path d="M204.54,50.58h5.00M207.04,48.08v5.00M204.54,48.08l5.00,5.00M204.54,53.08l5.00,-5.00"/><path d="M204.71,50.69h5.00M207.21,48.19v5.00M204.71,48.19l5.00,5.00M204.71,53.19l5.00,-5.00"/><path d="M205.38,50.25h5.00M207.88,47.75v5.00M205.38,47.75l5.00,5.00M205.38,52.75l5.00,-5.00"/><path d="M205.79,50.30h5.00M208.29,47.80v5.00M205.79,47.80l5.00,5.00M205.79,52.80l5.00,-5.00"/><path d="M206.13,50.11h5.00M208.63,47.61v5.00M206.13,47.61l5.00,5.00M206.13,52.61l5.00,-5.00"/><path d="M206.82,50.18h5.00M209.32,47.68v5.00M206.82,47.68l5.00,5.00M206.82,52.68l5.00,-5.00"/><path d="M207.05,50.17h5.00M209.55,47.67v5.00M207.05,47.67l5.00,5.00M207.05,52.67l5.00,-5.00"/><path d="M207.63,49.65h5.00M210.13,47.15v5.00M207.63,47.15l5.00,5.00M207.63,52.15l5.00,-5.00"/><path d="M207.57,50.04h5.00M210.07,47.54v5.00M207.57,47.54l5.00,5.00M207.57,52.54l5.00,-5.00"/><path d="M207.35,49.87h5.00M209.85,47.37v5.00M207.35,47.37l5.00,5.00M207.35,52.37l5.00,-5.00"/><path d="M207.68,49.78h5.00M210.18,47.28v5.00M207.68,47.28l5.00,5.00M207.68,52.28l5.00,-5.00"/><path d="M208.32,49.73h5.00M210.82,47.23v5.00M208.32,47.23l5.00,5.00M208.32,52.23l5.00,-5.00"/><path d="M208.70,49.94h5.00M211.20,47.44v5.00M208.70,47.44l5.00,5.00M208.70,52.44l5.00,-5.00"/><path d="M209.33,49.79h5.00M211.83,47.29v5.00M209.33,47.29l5.00,5.00M209.33,52.29l5.00,-5.00"/><path d="M210.03,49.79h5.00M212.53,47.29v5.00M210.03,47.29l5.00,5.00M210.03,52.29l5.00,-5.00"/><path d="M210.49,49.78h5.00M212.99,47.28v5.00M210.49,47.28l5.00,5.00M210.49,52.28l5.00,-5.00"/><path d="M210.83,49.58h5.00M213.33,47.08v5.00M210.83,47.08l5.00,5.00M210.83,52.08l5.00,-5.00"/><path d="M211.15,49.76h5.00M213.65,47.26v5.00M211.15,47.26l5.00,5.00M211.15,52.26l5.00,-5.00"/><path d="M211.27,49.79h5.00M213.77,47.29v5.00M211.27,47.29l5.00,5.00M211.27,52.29l5.00,-5.00"/><path d="M211.79,49.62h5.00M214.29,47.12v5.00M211.79,47.12l5.00,5.00M211.79,52.12l5.00,-5.00"/><path d="M212.24,49.60h5.00M214.74,47.10v5.00M212.24,47.10l5.00,5.00M212.24,52.10l5.00,-5.00"/><path d="M212.96,49.44h5.00M215.46,46.94v5.00M212.96,46.94l5.00,5.00M212.96,51.94l5.00,-5.00"/><path d="M213.61,49.52h5.00M216.11,47.02v5.00M213.61,47.02l5.00,5.00M213.61,52.02l5.00,-5.00"/><path d="M213.80,49.54h5.00M216.30,47.04v5.00M213.80,47.04l5.00,5.00M213.80,52.04l5.00,-5.00"/><path d="M214.16,49.41h5.00M216.66,46.91v5.00M214.16,46.91l5.00,5.00M214.16,51.91l5.00,-5.00"/><path d="M214.78,49.47h5.00M217.28,46.97v5.00M214.78,46.97l5.00,5.00M214.78,51.97l5.00,-5.00"/><path d="M215.00,49.48h5.00M217.50,46.98v5.00M215.00,46.98l5.00,5.00M215.00,51.98l5.00,-5.00"/><path d="M215.46,49.24h5.00M217.96,46.74v5.00M215.46,46.74l5.00,5.00M215.46,51.74l5.00,-5.00"/><path d="M215.88,49.22h5.00M218.38,46.72v5.00M215.88,46.72l5.00,5.00M215.88,51.72l5.00,-5.00"/><path d="M216.28,49.40h5.00M218.78,46.90v5.00M216.28,46.90l5.00,5.00M216.28,51.90l5.00,-5.00"/><path d="M216.86,49.41h5.00M219.36,46.91v5.00M216.86,46.91l5.00,5.00M216.86,51.91l5.00,-5.00"/><path d="M217.53,49.12h5.00M220.03,46.62v5.00M217.53,46.62l5.00,5.00M217.53,51.62l5.00,-5.00"/><path d="M218.12,49.36h5.00M220.62,46.86v5.00M218.12,46.86l5.00,5.00M218.12,51.86l5.00,-5.00"/><path d="M218.02,49.32h5.00M220.52,46.82v5.00M218.02,46.82l5.00,5.00M218.02,51.82l5.00,-5.00"/><path d="M218.68,49.16h5.00M221.18,46.66v5.00M218.68,46.66l5.00,5.00M218.68,51.66l5.00,-5.00"/><path d="M219.46,49.06h5.00M221.96,46.56v5.00M219.46,46.56l5.00,5.00M219.46,51.56l5.00,-5.00"/><path d="M219.64,49.23h5.00M222.14,46.73v5.00M219.64,46.73l5.00,5.00M219.64,51.73l5.00,-5.00"/><path d="M220.21,49.06h5.00M222.71,46.56v5.00M220.21,46.56l5.00,5.00M220.21,51.56l5.00,-5.00"/><path d="M220.81,49.13h5.00M223.31,46.63v5.00M220.81,46.63l5.00,5.00M220.81,51.63l5.00,-5.00"/><path d="M221.03,48.89h5.00M223.53,46.39v5.00M221.03,46.39l5.00,5.00M221.03,51.39l5.00,-5.00"/><path d="M221.49,48.96h5.00M223.99,46.46v5.00M221.49,46.46l5.00,5.00M221.49,51.46l5.00,-5.00"/><path d="M221.69,48.81h5.00M224.19,46.31v5.00M221.69,46.31l5.00,5.00M221.69,51.31l5.00,-5.00"/><path d="M222.33,48.80h5.00M224.83,46.30v5.00M222.33,46.30l5.00,5.00M222.33,51.30l5.00,-5.00"/><path d="M222.73,48.93h5.00M225.23,46.43v5.00M222.73,46.43l5.00,5.00M222.73,51.43l5.00,-5.00"/><path d="M223.19,48.78h5.00M225.69,46.28v5.00M223.19,46.28l5.00,5.00M223.19,51.28l5.00,-5.00"/><path d="M223.71,48.79h5.00M226.21,46.29v5.00M223.71,46.29l5.00,5.00M223.71,51.29l5.00,-5.00"/><path d="M224.28,48.79h5.00M226.78,46.29v5.00M224.28,46.29l5.00,5.00M224.28,51.29l5.00,-5.00"/><path d="M224.86,48.89h5.00M227.36,46.39v5.00M224.86,46.39l5.00,5.00M224.86,51.39l5.00,-5.00"/><path d="M225.15,48.64h5.00M227.65,46.14v5.00M225.15,46.14l5.00,5.00M225.15,51.14l5.00,-5.00"/><path d="M225.23,48.80h5.00M227.73,46.30v5.00M225.23,46.30l5.00,5.00M225.23,51.30l5.00,-5.00"/><path d="M226.08,48.69h5.00M228.58,46.19v5.00M226.08,46.19l5.00,5.00M226.08,51.19l5.00,-5.00"/><path d="M226.27,48.55h5.00M228.77,46.05v5.00M226.27,46.05l5.00,5.00M226.27,51.05l5.00,-5.00"/><path d="M226.92,48.61h5.00M229.42,46.11v5.00M226.92,46.11l5.00,5.00M226.92,51.11l5.00,-5.00"/><path d="M227.31,48.59h5.00M229.81,46.09v5.00M227.31,46.09l5.00,5.00M227.31,51.09l5.00,-5.00"/><path d="M227.85,48.43h5.00M230.35,45.93v5.00M227.85,45.93l5.00,5.00M227.85,50.93l5.00,-5.00"/><path d="M228.00,48.63h5.00M230.50,46.13v5.00M228.00,46.13l5.00,5.00M228.00,51.13l5.00,-5.00"/><path d="M228.85,48.57h5.00M231.35,46.07v5.00M228.85,46.07l5.00,5.00M228.85,51.07l5.00,-5.00"/><path d="M228.77,48.29h5.00M231.27,45.79v5.00M228.77,45.79l5.00,5.00M228.77,50.79l5.00,-5.00"/><path d="M229.36,48.37h5.00M231.86,45.87v5.00M229.36,45.87l5.00,5.00M229.36,50.87l5.00,-5.00"/><path d="M230.02,48.24h5.00M232.52,45.74v5.00M230.02,45.74l5.00,5.00M230.02,50.74l5.00,-5.00"/><path d="M230.42,48.20h5.00M232.92,45.70v5.00M230.42,45.70l5.00,5.00M230.42,50.70l5.00,-5.00"/><path d="M230.60,48.35h5.00M233.10,45.85v5.00M230.60,45.85l5.00,5.00M230.60,50.85l5.00,-5.00"/><path d="M231.32,48.30h5.00M233.82,45.80v5.00M231.32,45.80l5.00,5.00M231.32,50.80l5.00,-5.00"/><path d="M231.67,48.22h5.00M234.17,45.72v5.00M231.67,45.72l5.00,5.00M231.67,50.72l5.00,-5.00"/><path d="M232.02,48.15h5.00M234.52,45.65v5.00M232.02,45.65l5.00,5.00M232.02,50.65l5.00,-5.00"/><path d="M232.79,48.26h5.00M235.29,45.76v5.00M232.79,45.76l5.00,5.00M232.79,50.76l5.00,-5.00"/><path d="M232.83,48.02h5.00M235.33,45.52v5.00M232.83,45.52l5.00,5.00M232.83,50.52l5.00,-5.00"/><path d="M233.69,48.14h5.00M236.19,45.64v5.00M233.69,45.64l5.00,5.00M233.69,50.64l5.00,-5.00"/><path d="M233.66,48.03h5.00M236.16,45.53v5.00M233.66,45.53l5.00,5.00M233.66,50.53l5.00,-5.00"/><path d="M234.25,47.99h5.00M236.75,45.49v5.00M234.25,45.49l5.00,5.00M234.25,50.49l5.00,-5.00"/><path d="M235.28,47.96h5.00M237.78,45.46v5.00M235.28,45.46l5.00,5.00M235.28,50.46l5.00,-5.00"/><path d="M235.99,48.06h5.00M238.49,45.56v5.00M235.99,45.56l5.00,5.00M235.99,50.56l5.00,-5.00"/><path d="M236.59,47.90h5.00M239.09,45.40v5.00M236.59,45.40l5.00,5.00M236.59,50.40l5.00,-5.00"/><path d="M237.64,47.96h5.00M240.14,45.46v5.00M237.64,45.46l5.00,5.00M237.64,50.46l5.00,-5.00"/><path d="M238.25,47.80h5.00M240.75,45.30v5.00M238.25,45.30l5.00,5.00M238.25,50.30l5.00,-5.00"/><path d="M238.85,47.89h5.00M241.35,45.39v5.00M238.85,45.39l5.00,5.00M238.85,50.39l5.00,-5.00"/><path d="M239.64,47.67h5.00M242.14,45.17v5.00M239.64,45.17l5.00,5.00M239.64,50.17l5.00,-5.00"/><path d="M240.73,47.74h5.00M243.23,45.24v5.00M240.73,45.24l5.00,5.00M240.73,50.24l5.00,-5.00"/><path d="M241.60,47.66h5.00M244.10,45.16v5.00M241.60,45.16l5.00,5.00M241.60,50.16l5.00,-5.00"/><path d="M242.45,47.58h5.00M244.95,45.08v5.00M242.45,45.08l5.00,5.00M242.45,50.08l5.00,-5.00"/><path d="M242.92,47.69h5.00M245.42,45.19v5.00M242.92,45.19l5.00,5.00M242.92,50.19l5.00,-5.00"/><path d="M243.64,47.58h5.00M246.14,45.08v5.00M243.64,45.08l5.00,5.00M243.64,50.08l5.00,-5.00"/><path d="M244.63,47.65h5.00M247.13,45.15v5.00M244.63,45.15l5.00,5.00M244.63,50.15l5.00,-5.00"/><path d="M245.00,47.62h5.00M247.50,45.12v5.00M245.00,45.12l5.00,5.00M245.00,50.12l5.00,-5.00"/><path d="M247.68,47.55h5.00M250.18,45.05v5.00M247.68,45.05l5.00,5.00M247.68,50.05l5.00,-5.00"/><path d="M250.37,47.65h5.00M252.87,45.15v5.00M250.37,45.15l5.00,5.00M250.37,50.15l5.00,-5.00"/><path d="M253.05,47.58h5.00M255.55,45.08v5.00M253.05,45.08l5.00,5.00M253.05,50.08l5.00,-5.00"/><path d="M255.34,47.44h5.00M257.84,44.94v5.00M255.34,44.94l5.00,5.00M255.34,49.94l5.00,-5.00"/><path d="M257.08,47.58h5.00M259.58,45.08v5.00M257.08,45.08l5.00,5.00M257.08,50.08l5.00,-5.00"/><path d="M257.79,47.55h5.00M260.29,45.05v5.00M257.79,45.05l5.00,5.00M257.79,50.05l5.00,-5.00"/><path d="M258.50,47.44h5.00M261.00,44.94v5.00M258.50,44.94l5.00,5.00M258.50,49.94l5.00,-5.00"/><path d="M260.24,47.58h5.00M262.74,45.08v5.00M260.24,45.08l5.00,5.00M260.24,50.08l5.00,-5.00"/><path d="M263.10,47.45h5.00M265.60,44.95v5.00M263.10,44.95l5.00,5.00M263.10,49.95l5.00,-5.00"/><path d="M267.10,47.45h5.00M269.60,44.95v5.00M267.10,44.95l5.00,5.00M267.10,49.95l5.00,-5.00"/><path d="M272.40,47.45h5.00M274.90,44.95v5.00M272.40,44.95l5.00,5.00M272.40,49.95l5.00,-5.00"/><path d="M275.50,47.45h5.00M278.00,44.95v5.00M275.50,44.95l5.00,5.00M275.50,49.95l5.00,-5.00"/><path d="M279.00,47.45h5.00M281.50,44.95v5.00M279.00,44.95l5.00,5.00M279.00,49.95l5.00,-5.00"/><path d="M282.10,47.45h5.00M284.60,44.95v5.00M282.10,44.95l5.00,5.00M282.10,49.95l5.00,-5.00"/><path d="M285.50,47.45h5.00M288.00,44.95v5.00M285.50,44.95l5.00,5.00M285.50,49.95l5.00,-5.00"/><path d="M288.70,47.45h5.00M291.20,44.95v5.00M288.70,44.95l5.00,5.00M288.70,49.95l5.00,-5.00"/><path d="M292.10,47.45h5.00M294.60,44.95v5.00M292.10,44.95l5.00,5.00M292.10,49.95l5.00,-5.00"/><path d="M295.60,47.45h5.00M298.10,44.95v5.00M295.60,44.95l5.00,5.00M295.60,49.95l5.00,-5.00"/><path d="M298.70,47.45h5.00M301.20,44.95v5.00M298.70,44.95l5.00,5.00M298.70,49.95l5.00,-5.00"/><path d="M301.90,47.45h5.00M304.40,44.95v5.00M301.90,44.95l5.00,5.00M301.90,49.95l5.00,-5.00"/><path d="M305.30,47.45h5.00M307.80,44.95v5.00M305.30,44.95l5.00,5.00M305.30,49.95l5.00,-5.00"/><path d="M263.25,47.40h5.00M265.75,44.90v5.00M263.25,44.90l5.00,5.00M263.25,49.90l5.00,-5.00"/><path d="M267.25,47.40h5.00M269.75,44.90v5.00M267.25,44.90l5.00,5.00M267.25,49.90l5.00,-5.00"/><path d="M272.55,47.40h5.00M275.05,44.90v5.00M272.55,44.90l5.00,5.00M272.55,49.90l5.00,-5.00"/><path d="M275.65,47.40h5.00M278.15,44.90v5.00M275.65,44.90l5.00,5.00M275.65,49.90l5.00,-5.00"/><path d="M279.15,47.40h5.00M281.65,44.90v5.00M279.15,44.90l5.00,5.00M279.15,49.90l5.00,-5.00"/><path d="M282.25,47.40h5.00M284.75,44.90v5.00M282.25,44.90l5.00,5.00M282.25,49.90l5.00,-5.00"/><path d="M285.65,47.40h5.00M288.15,44.90v5.00M285.65,44.90l5.00,5.00M285.65,49.90l5.00,-5.00"/><path d="M288.85,47.40h5.00M291.35,44.90v5.00M288.85,44.90l5.00,5.00M288.85,49.90l5.00,-5.00"/><path d="M292.25,47.40h5.00M294.75,44.90v5.00M292.25,44.90l5.00,5.00M292.25,49.90l5.00,-5.00"/><path d="M295.75,47.40h5.00M298.25,44.90v5.00M295.75,44.90l5.00,5.00M295.75,49.90l5.00,-5.00"/><path d="M298.85,47.40h5.00M301.35,44.90v5.00M298.85,44.90l5.00,5.00M298.85,49.90l5.00,-5.00"/><path d="M302.05,47.40h5.00M304.55,44.90v5.00M302.05,44.90l5.00,5.00M302.05,49.90l5.00,-5.00"/><path d="M305.45,47.40h5.00M307.95,44.90v5.00M305.45,44.90l5.00,5.00M305.45,49.90l5.00,-5.00"/><path d="M317.80,47.40h5.00M320.30,44.90v5.00M317.80,44.90l5.00,5.00M317.80,49.90l5.00,-5.00"/><path d="M321.80,47.40h5.00M324.30,44.90v5.00M321.80,44.90l5.00,5.00M321.80,49.90l5.00,-5.00"/><path d="M322.50,47.40h5.00M325.00,44.90v5.00M322.50,44.90l5.00,5.00M322.50,49.90l5.00,-5.00"/><path d="M323.10,47.40h5.00M325.60,44.90v5.00M323.10,44.90l5.00,5.00M323.10,49.90l5.00,-5.00"/><path d="M323.80,47.40h5.00M326.30,44.90v5.00M323.80,44.90l5.00,5.00M323.80,49.90l5.00,-5.00"/><path d="M328.50,47.40h5.00M331.00,44.90v5.00M328.50,44.90l5.00,5.00M328.50,49.90l5.00,-5.00"/><path d="M332.30,47.40h5.00M334.80,44.90v5.00M332.30,44.90l5.00,5.00M332.30,49.90l5.00,-5.00"/></g>
<g stroke="#00f" stroke-width="0.52" fill="none"><path d="M85.10,212.20h5.00M87.60,209.70v5.00"/><path d="M98.10,193.00h5.00M100.60,190.50v5.00"/><path d="M98.10,177.00h5.00M100.60,174.50v5.00"/><path d="M98.10,165.00h5.00M100.60,162.50v5.00"/><path d="M98.10,148.30h5.00M100.60,145.80v5.00"/><path d="M98.10,134.30h5.00M100.60,131.80v5.00"/><path d="M105.80,133.20h5.00M108.30,130.70v5.00"/><path d="M105.80,131.30h5.00M108.30,128.80v5.00"/><path d="M105.80,129.80h5.00M108.30,127.30v5.00"/><path d="M105.80,127.20h5.00M108.30,124.70v5.00"/><path d="M105.90,124.70h5.00M108.40,122.20v5.00"/><path d="M107.80,124.10h5.00M110.30,121.60v5.00"/><path d="M109.70,123.20h5.00M112.20,120.70v5.00"/><path d="M111.60,121.80h5.00M114.10,119.30v5.00"/><path d="M112.90,120.90h5.00M115.40,118.40v5.00"/><path d="M114.00,120.90h5.00M116.50,118.40v5.00"/><path d="M115.50,120.90h5.00M118.00,118.40v5.00"/><path d="M119.30,120.30h5.00M121.80,117.80v5.00"/><path d="M121.20,119.60h5.00M123.70,117.10v5.00"/><path d="M123.10,118.80h5.00M125.60,116.30v5.00"/><path d="M125.60,117.70h5.00M128.10,115.20v5.00"/><path d="M127.50,117.40h5.00M130.00,114.90v5.00"/><path d="M130.00,116.90h5.00M132.50,114.40v5.00"/><path d="M132.50,116.50h5.00M135.00,114.00v5.00"/><path d="M134.50,115.80h5.00M137.00,113.30v5.00"/><path d="M137.00,115.20h5.00M139.50,112.70v5.00"/><path d="M133.80,115.30h5.00M136.30,112.80v5.00"/><path d="M136.30,114.10h5.00M138.80,111.60v5.00"/><path d="M138.20,113.70h5.00M140.70,111.20v5.00"/><path d="M142.60,112.80h5.00M145.10,110.30v5.00"/><path d="M145.20,111.80h5.00M147.70,109.30v5.00"/><path d="M147.10,110.90h5.00M149.60,108.40v5.00"/><path d="M149.00,110.30h5.00M151.50,107.80v5.00"/><path d="M151.50,109.60h5.00M154.00,107.10v5.00"/><path d="M153.40,109.00h5.00M155.90,106.50v5.00"/><path d="M159.70,107.70h5.00M162.20,105.20v5.00"/><path d="M160.70,107.60h5.00M163.20,105.10v5.00"/><path d="M161.70,107.50h5.00M164.20,105.00v5.00"/><path d="M163.50,107.10h5.00M166.00,104.60v5.00"/><path d="M164.50,107.10h5.00M167.00,104.60v5.00"/><path d="M165.50,107.10h5.00M168.00,104.60v5.00"/><path d="M169.28,106.74h5.00M171.78,104.24v5.00"/><path d="M170.06,106.67h5.00M172.56,104.17v5.00"/><path d="M170.40,106.73h5.00M172.90,104.23v5.00"/><path d="M170.79,106.67h5.00M173.29,104.17v5.00"/><path d="M171.56,106.83h5.00M174.06,104.33v5.00"/><path d="M171.85,106.53h5.00M174.35,104.03v5.00"/><path d="M172.39,106.82h5.00M174.89,104.32v5.00"/><path d="M173.25,106.35h5.00M175.75,103.85v5.00"/><path d="M173.94,106.89h5.00M176.44,104.39v5.00"/><path d="M174.33,106.67h5.00M176.83,104.17v5.00"/><path d="M174.63,106.30h5.00M177.13,103.80v5.00"/><path d="M175.36,106.31h5.00M177.86,103.81v5.00"/><path d="M175.74,106.41h5.00M178.24,103.91v5.00"/><path d="M176.21,106.54h5.00M178.71,104.04v5.00"/><path d="M176.97,106.75h5.00M179.47,104.25v5.00"/><path d="M177.56,106.62h5.00M180.06,104.12v5.00"/><path d="M178.10,106.62h5.00M180.60,104.12v5.00"/><path d="M178.63,106.38h5.00M181.13,103.88v5.00"/><path d="M179.45,106.80h5.00M181.95,104.30v5.00"/><path d="M179.89,106.47h5.00M182.39,103.97v5.00"/><path d="M180.14,105.99h5.00M182.64,103.49v5.00"/><path d="M180.64,105.70h5.00M183.14,103.20v5.00"/><path d="M181.40,105.70h5.00M183.90,103.20v5.00"/><path d="M181.95,105.50h5.00M184.45,103.00v5.00"/><path d="M182.52,105.59h5.00M185.02,103.09v5.00"/><path d="M182.56,105.00h5.00M185.06,102.50v5.00"/><path d="M183.52,104.94h5.00M186.02,102.44v5.00"/><path d="M184.06,104.69h5.00M186.56,102.19v5.00"/><path d="M184.11,104.62h5.00M186.61,102.12v5.00"/><path d="M184.98,104.19h5.00M187.48,101.69v5.00"/><path d="M185.14,104.01h5.00M187.64,101.51v5.00"/><path d="M186.08,104.06h5.00M188.58,101.56v5.00"/><path d="M186.17,103.54h5.00M188.67,101.04v5.00"/><path d="M186.67,103.22h5.00M189.17,100.72v5.00"/><path d="M187.52,103.08h5.00M190.02,100.58v5.00"/><path d="M187.91,103.03h5.00M190.41,100.53v5.00"/><path d="M188.24,102.99h5.00M190.74,100.49v5.00"/><path d="M188.72,102.73h5.00M191.22,100.23v5.00"/><path d="M189.22,102.39h5.00M191.72,99.89v5.00"/><path d="M189.77,102.08h5.00M192.27,99.58v5.00"/><path d="M190.65,102.18h5.00M193.15,99.68v5.00"/><path d="M190.82,102.01h5.00M193.32,99.51v5.00"/><path d="M191.28,101.49h5.00M193.78,98.99v5.00"/><path d="M192.11,101.42h5.00M194.61,98.92v5.00"/><path d="M192.23,101.40h5.00M194.73,98.90v5.00"/><path d="M192.79,100.74h5.00M195.29,98.24v5.00"/><path d="M193.58,100.56h5.00M196.08,98.06v5.00"/><path d="M193.84,100.19h5.00M196.34,97.69v5.00"/><path d="M194.24,100.27h5.00M196.74,97.77v5.00"/><path d="M194.85,100.17h5.00M197.35,97.67v5.00"/><path d="M195.46,99.98h5.00M197.96,97.48v5.00"/><path d="M196.29,99.90h5.00M198.79,97.40v5.00"/><path d="M196.64,100.03h5.00M199.14,97.53v5.00"/><path d="M196.99,99.50h5.00M199.49,97.00v5.00"/><path d="M197.89,99.80h5.00M200.39,97.30v5.00"/><path d="M198.10,99.32h5.00M200.60,96.82v5.00"/><path d="M198.89,99.67h5.00M201.39,97.17v5.00"/><path d="M199.16,99.58h5.00M201.66,97.08v5.00"/><path d="M200.04,99.27h5.00M202.54,96.77v5.00"/><path d="M200.35,98.87h5.00M202.85,96.37v5.00"/><path d="M200.70,99.28h5.00M203.20,96.78v5.00"/><path d="M201.34,99.03h5.00M203.84,96.53v5.00"/><path d="M201.89,99.00h5.00M204.39,96.50v5.00"/><path d="M202.60,98.58h5.00M205.10,96.08v5.00"/><path d="M202.93,98.74h5.00M205.43,96.24v5.00"/><path d="M203.42,98.34h5.00M205.92,95.84v5.00"/><path d="M204.21,98.61h5.00M206.71,96.11v5.00"/><path d="M204.77,98.17h5.00M207.27,95.67v5.00"/><path d="M205.47,98.02h5.00M207.97,95.52v5.00"/><path d="M205.56,97.96h5.00M208.06,95.46v5.00"/><path d="M206.31,97.74h5.00M208.81,95.24v5.00"/><path d="M206.72,97.82h5.00M209.22,95.32v5.00"/><path d="M207.46,97.58h5.00M209.96,95.08v5.00"/><path d="M207.89,97.93h5.00M210.39,95.43v5.00"/><path d="M208.74,97.69h5.00M211.24,95.19v5.00"/><path d="M209.13,97.53h5.00M211.63,95.03v5.00"/><path d="M209.39,97.07h5.00M211.89,94.57v5.00"/><path d="M209.87,97.47h5.00M212.37,94.97v5.00"/><path d="M210.74,97.38h5.00M213.24,94.88v5.00"/><path d="M210.94,97.06h5.00M213.44,94.56v5.00"/><path d="M211.71,96.99h5.00M214.21,94.49v5.00"/><path d="M212.16,97.02h5.00M214.66,94.52v5.00"/><path d="M212.57,96.63h5.00M215.07,94.13v5.00"/><path d="M213.44,96.71h5.00M215.94,94.21v5.00"/><path d="M213.98,96.47h5.00M216.48,93.97v5.00"/><path d="M214.54,96.47h5.00M217.04,93.97v5.00"/><path d="M214.85,96.18h5.00M217.35,93.68v5.00"/><path d="M215.64,96.12h5.00M218.14,93.62v5.00"/><path d="M215.93,95.91h5.00M218.43,93.41v5.00"/><path d="M216.67,95.61h5.00M219.17,93.11v5.00"/><path d="M217.08,95.33h5.00M219.58,92.83v5.00"/><path d="M217.58,95.30h5.00M220.08,92.80v5.00"/><path d="M217.86,95.15h5.00M220.36,92.65v5.00"/><path d="M218.84,95.13h5.00M221.34,92.63v5.00"/><path d="M219.23,94.67h5.00M221.73,92.17v5.00"/><path d="M219.76,94.62h5.00M222.26,92.12v5.00"/><path d="M220.13,94.61h5.00M222.63,92.11v5.00"/><path d="M220.47,94.36h5.00M222.97,91.86v5.00"/><path d="M220.93,94.03h5.00M223.43,91.53v5.00"/><path d="M221.65,93.56h5.00M224.15,91.06v5.00"/><path d="M222.25,93.47h5.00M224.75,90.97v5.00"/><path d="M222.70,93.48h5.00M225.20,90.98v5.00"/><path d="M223.01,92.69h5.00M225.51,90.19v5.00"/><path d="M223.53,92.85h5.00M226.03,90.35v5.00"/><path d="M223.98,92.32h5.00M226.48,89.82v5.00"/><path d="M224.84,92.39h5.00M227.34,89.89v5.00"/><path d="M225.11,92.31h5.00M227.61,89.81v5.00"/><path d="M225.56,91.95h5.00M228.06,89.45v5.00"/><path d="M226.00,91.59h5.00M228.50,89.09v5.00"/><path d="M226.80,91.66h5.00M229.30,89.16v5.00"/><path d="M227.09,91.23h5.00M229.59,88.73v5.00"/><path d="M226.93,91.23h5.00M229.43,88.73v5.00"/><path d="M227.91,90.72h5.00M230.41,88.22v5.00"/><path d="M228.97,90.46h5.00M231.47,87.96v5.00"/><path d="M230.01,90.24h5.00M232.51,87.74v5.00"/><path d="M231.75,89.67h5.00M234.25,87.17v5.00"/><path d="M234.77,89.47h5.00M237.27,86.97v5.00"/><path d="M235.78,89.34h5.00M238.28,86.84v5.00"/><path d="M236.34,89.39h5.00M238.84,86.89v5.00"/><path d="M237.75,89.31h5.00M240.25,86.81v5.00"/><path d="M240.78,88.79h5.00M243.28,86.29v5.00"/><path d="M243.34,88.21h5.00M245.84,85.71v5.00"/><path d="M245.61,87.93h5.00M248.11,85.43v5.00"/><path d="M246.46,87.80h5.00M248.96,85.30v5.00"/><path d="M247.57,87.98h5.00M250.07,85.48v5.00"/><path d="M253.72,87.73h5.00M256.22,85.23v5.00"/><path d="M255.61,87.07h5.00M258.11,84.57v5.00"/><path d="M257.34,86.71h5.00M259.84,84.21v5.00"/><path d="M259.88,86.56h5.00M262.38,84.06v5.00"/><path d="M266.10,86.20h5.00M268.60,83.70v5.00"/><path d="M266.20,86.20h5.00M268.70,83.70v5.00"/><path d="M266.00,86.30h5.00M268.50,83.80v5.00"/><path d="M273.10,85.30h5.00M275.60,82.80v5.00"/><path d="M275.00,85.10h5.00M277.50,82.60v5.00"/><path d="M278.10,85.10h5.00M280.60,82.60v5.00"/><path d="M282.50,84.10h5.00M285.00,81.60v5.00"/><path d="M284.50,83.40h5.00M287.00,80.90v5.00"/><path d="M287.00,82.80h5.00M289.50,80.30v5.00"/><path d="M283.80,84.20h5.00M286.30,81.70v5.00"/><path d="M286.30,83.00h5.00M288.80,80.50v5.00"/><path d="M288.80,82.00h5.00M291.30,79.50v5.00"/><path d="M289.70,81.70h5.00M292.20,79.20v5.00"/><path d="M290.70,81.40h5.00M293.20,78.90v5.00"/><path d="M292.60,80.40h5.00M295.10,77.90v5.00"/><path d="M293.50,80.30h5.00M296.00,77.80v5.00"/><path d="M294.50,80.20h5.00M297.00,77.70v5.00"/><path d="M297.10,79.80h5.00M299.60,77.30v5.00"/><path d="M299.00,79.40h5.00M301.50,76.90v5.00"/><path d="M300.20,79.20h5.00M302.70,76.70v5.00"/><path d="M305.30,78.50h5.00M307.80,76.00v5.00"/><path d="M305.40,78.50h5.00M307.90,76.00v5.00"/><path d="M318.00,78.10h5.00M320.50,75.60v5.00"/><path d="M320.50,77.90h5.00M323.00,75.40v5.00"/><path d="M322.50,77.30h5.00M325.00,74.80v5.00"/><path d="M322.60,77.30h5.00M325.10,74.80v5.00"/><path d="M323.50,77.00h5.00M326.00,74.50v5.00"/><path d="M328.10,76.60h5.00M330.60,74.10v5.00"/><path d="M331.90,76.60h5.00M334.40,74.10v5.00"/></g>
<g stroke="#f00" stroke-width="0.52" fill="none"><path d="M363.00,217.00l5.00,5.00M363.00,222.00l5.00,-5.00"/></g>
<g stroke="#0f0" stroke-width="0.52" fill="none"><path d="M363.00,234.60h5.00M365.50,232.10v5.00M363.00,232.10l5.00,5.00M363.00,237.10l5.00,-5.00"/></g>
<g stroke="#00f" stroke-width="0.52" fill="none"><path d="M363.00,204.50h5.00M365.50,202.00v5.00"/></g>
<path d="M87.60,34.65h3.4M385.30,34.65h-3.4M87.60,60.99h3.4M385.30,60.99h-3.4M87.60,87.32h3.4M385.30,87.32h-3.4M87.60,113.66h3.4M385.30,113.66h-3.4M87.60,140.00h3.4M385.30,140.00h-3.4M87.60,166.34h3.4M385.30,166.34h-3.4M87.60,192.67h3.4M385.30,192.67h-3.4M87.60,219.01h3.4M385.30,219.01h-3.4M87.60,245.35h3.4M385.30,245.35h-3.4M87.60,245.35v-3.4M87.60,34.65v3.4M100.98,245.35v-1.8M100.98,34.65v1.8M118.67,245.35v-1.8M118.67,34.65v1.8M127.74,245.35v-1.8M127.74,34.65v1.8M132.05,245.35v-3.4M132.05,34.65v3.4M145.43,245.35v-1.8M145.43,34.65v1.8M163.12,245.35v-1.8M163.12,34.65v1.8M172.19,245.35v-1.8M172.19,34.65v1.8M176.50,245.35v-3.4M176.50,34.65v3.4M189.88,245.35v-1.8M189.88,34.65v1.8M207.57,245.35v-1.8M207.57,34.65v1.8M216.64,245.35v-1.8M216.64,34.65v1.8M220.95,245.35v-3.4M220.95,34.65v3.4M234.33,245.35v-1.8M234.33,34.65v1.8M252.02,245.35v-1.8M252.02,34.65v1.8M261.09,245.35v-1.8M261.09,34.65v1.8M265.40,245.35v-3.4M265.40,34.65v3.4M278.78,245.35v-1.8M278.78,34.65v1.8M296.47,245.35v-1.8M296.47,34.65v1.8M305.54,245.35v-1.8M305.54,34.65v1.8M309.85,245.35v-3.4M309.85,34.65v3.4M323.23,245.35v-1.8M323.23,34.65v1.8M340.92,245.35v-1.8M340.92,34.65v1.8M349.99,245.35v-1.8M349.99,34.65v1.8M354.30,245.35v-3.4M354.30,34.65v3.4M367.68,245.35v-1.8M367.68,34.65v1.8" stroke="#000" stroke-width="0.55" fill="none"/>
<rect x="87.6" y="34.65" width="297.70" height="210.70" fill="none" stroke="#000" stroke-width="1.0"/>
<g class="t" font-size="16.2" fill="#000">
<text transform="translate(82.30,40.10) scale(0.9568,1)" text-anchor="end">20750</text>
<text transform="translate(82.30,66.44) scale(0.9568,1)" text-anchor="end">20700</text>
<text transform="translate(82.30,92.77) scale(0.9568,1)" text-anchor="end">20650</text>
<text transform="translate(82.30,119.11) scale(0.9568,1)" text-anchor="end">20600</text>
<text transform="translate(82.30,145.45) scale(0.9568,1)" text-anchor="end">20550</text>
<text transform="translate(82.30,171.79) scale(0.9568,1)" text-anchor="end">20500</text>
<text transform="translate(82.30,198.12) scale(0.9568,1)" text-anchor="end">20450</text>
<text transform="translate(82.30,224.46) scale(0.9568,1)" text-anchor="end">20400</text>
<text transform="translate(82.30,250.80) scale(0.9568,1)" text-anchor="end">20350</text>
<text transform="translate(75.17,266.70) scale(0.9568,1)" text-anchor="start">10<tspan font-size="12.23" dx="-0.3" dy="-8.0">-1</tspan></text>
<text transform="translate(121.65,266.70) scale(0.9568,1)" text-anchor="start">10<tspan font-size="12.23" dx="-0.3" dy="-8.0">0</tspan></text>
<text transform="translate(166.10,266.70) scale(0.9568,1)" text-anchor="start">10<tspan font-size="12.23" dx="-0.3" dy="-8.0">1</tspan></text>
<text transform="translate(210.55,266.70) scale(0.9568,1)" text-anchor="start">10<tspan font-size="12.23" dx="-0.3" dy="-8.0">2</tspan></text>
<text transform="translate(255.00,266.70) scale(0.9568,1)" text-anchor="start">10<tspan font-size="12.23" dx="-0.3" dy="-8.0">3</tspan></text>
<text transform="translate(299.45,266.70) scale(0.9568,1)" text-anchor="start">10<tspan font-size="12.23" dx="-0.3" dy="-8.0">4</tspan></text>
<text transform="translate(343.90,266.70) scale(0.9568,1)" text-anchor="start">10<tspan font-size="12.23" dx="-0.3" dy="-8.0">5</tspan></text>
<text transform="translate(236.40,286.80) scale(0.9568,1)" text-anchor="middle">Time [s]</text>
<text transform="translate(37.50,139.60) rotate(-90) scale(0.9568,1)" text-anchor="middle">Solution Size</text>
<text transform="translate(349.50,209.50) scale(0.9424,1)" text-anchor="end">ARW</text>
<text transform="translate(349.50,224.50) scale(0.9424,1)" text-anchor="end">EvoMIS</text>
<text transform="translate(349.50,239.50) scale(0.9424,1)" text-anchor="end">ReduMIS</text>
</g>
</svg>
</body></html>
